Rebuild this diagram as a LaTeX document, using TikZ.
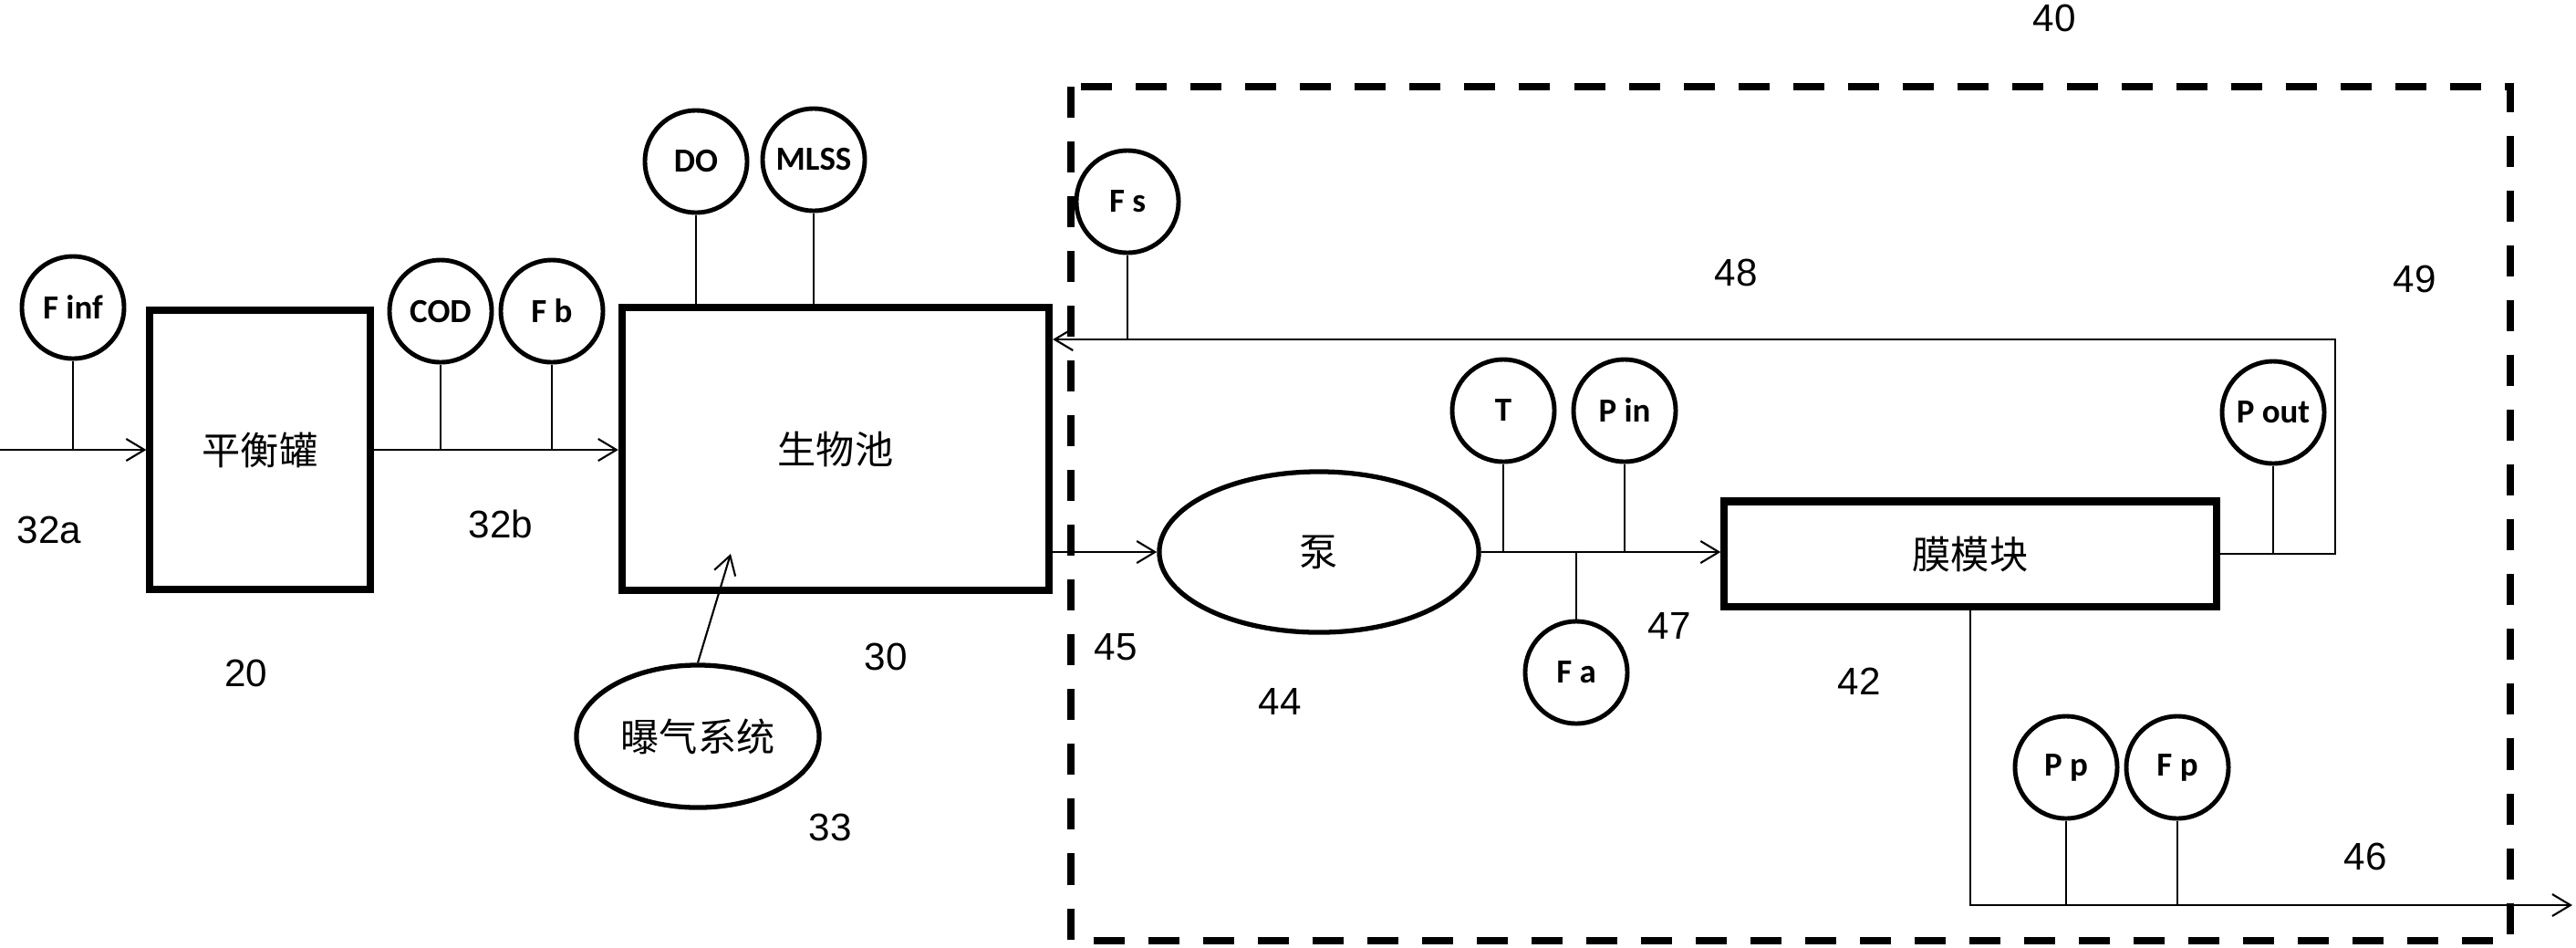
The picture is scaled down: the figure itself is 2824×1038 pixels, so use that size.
\documentclass[tikz,border=0pt]{standalone}
\usepackage{fontspec}
\setmainfont{Liberation Sans}
\newfontfamily\cjkfont{Noto Sans CJK SC}
\newfontfamily\tagfont{Carlito}
\usetikzlibrary{arrows.meta,shapes.geometric}

\begin{document}
\begin{tikzpicture}[x=0.01cm,y=-0.01cm,
  sensor/.style={circle,draw,line width=1.4pt,minimum size=1.12cm,inner sep=0pt,font=\tagfont\bfseries\fontsize{10.5}{12}\selectfont},
  tank/.style={rectangle,draw,line width=2.3pt,inner sep=0pt,font=\cjkfont\fontsize{12}{14}\selectfont},
  unit/.style={ellipse,draw,line width=1.5pt,inner sep=0pt,font=\cjkfont\fontsize{12}{14}\selectfont},
  pipe/.style={line width=0.6pt},
  flow/.style={pipe,-{Straight Barb[length=2mm,width=2.4mm]}},
  refnum/.style={inner sep=0pt,font=\fontsize{12}{14}\selectfont},
  boundary/.style={line width=2.2pt,dash pattern=on 0.34cm off 0.26cm}]
  \useasboundingbox (0,0) rectangle (2824,1038);
  \draw[boundary] (1174,95) rectangle (2752,1031);

  % influent, balance tank, bio tank
  \coordinate (in) at (0,493);
  \node[tank,minimum width=2.41cm,minimum height=3.06cm] (eq) at (285,493) {平衡罐};
  \node[tank,minimum width=4.68cm,minimum height=3.10cm] (bio) at (916,492) {生物池};
  \node[sensor] (finf) at (80,337) {F inf};
  \node[sensor] (cod) at (483,341) {COD};
  \node[sensor] (fb) at (605,341) {F b};
  \node[sensor] (do) at (763,177) {DO};
  \node[sensor] (mlss) at (892,175) {MLSS};
  \draw[flow] (in) -- (eq.west |- in);
  \draw[flow] (eq.east |- in) -- (bio.west |- in);
  \draw[pipe] (finf.south) -- (finf.south |- in);
  \draw[pipe] (cod.south) -- (cod.south |- in);
  \draw[pipe] (fb.south) -- (fb.south |- in);
  \draw[pipe] (do.south) -- (do.south |- bio.north);
  \draw[pipe] (mlss.south) -- (mlss.south |- bio.north);

  % aeration
  \node[unit,minimum width=2.66cm,minimum height=1.56cm] (aer) at (765,807) {曝气系统};
  \coordinate (airin) at (801,607);
  \draw[flow] (aer.north) -- (airin);

  % pump and membrane module
  \node[unit,minimum width=3.5cm,minimum height=1.76cm] (pump) at (1446,605) {泵};
  \node[tank,minimum width=5.39cm,minimum height=1.15cm] (mem) at (2160,607) {膜模块};
  \node[sensor] (t) at (1648,450) {T};
  \node[sensor] (pin) at (1781,450) {P in};
  \node[sensor] (fa) at (1728,737) {F a};
  \draw[flow] (bio.east |- pump.west) -- (pump.west);
  \draw[flow] (pump.east) -- (pump.east -| mem.west);
  \draw[pipe] (t.south) -- (t.south |- pump.east);
  \draw[pipe] (pin.south) -- (pin.south |- pump.east);
  \draw[pipe] (fa.north) -- (fa.north |- pump.east);

  % sludge return
  \coordinate (ret) at (2560,372);
  \node[sensor] (fs) at (1236,221) {F s};
  \node[sensor] (pout) at (2492,452) {P out};
  \draw[flow] (mem.east) -| (ret) -- (ret -| bio.east);
  \draw[pipe] (fs.south) -- (fs.south |- ret);
  \draw[pipe] (pout.south) -- (pout.south |- mem.east);

  % permeate
  \coordinate (out) at (2820,992);
  \node[sensor] (pp) at (2265,841) {P p};
  \node[sensor] (fp) at (2387,841) {F p};
  \draw[flow] (mem.south) |- (out);
  \draw[pipe] (pp.south) -- (pp.south |- out);
  \draw[pipe] (fp.south) -- (fp.south |- out);

  % reference numerals
  \node[refnum] (n32a) at (54,581) {32a};
  \node[refnum] (n32b) at (549,574) {32b};
  \node[refnum] (n20) at (270,738) {20};
  \node[refnum] (n30) at (971,720) {30};
  \node[refnum] (n33) at (910,907) {33};
  \node[refnum] (n40) at (2252,20) {40};
  \node[refnum] (n45) at (1223,709) {45};
  \node[refnum] (n44) at (1403,769) {44};
  \node[refnum] (n47) at (1830,686) {47};
  \node[refnum] (n42) at (2038,747) {42};
  \node[refnum] (n48) at (1903,299) {48};
  \node[refnum] (n49) at (2647,306) {49};
  \node[refnum] (n46) at (2593,939) {46};
\end{tikzpicture}
\end{document}
